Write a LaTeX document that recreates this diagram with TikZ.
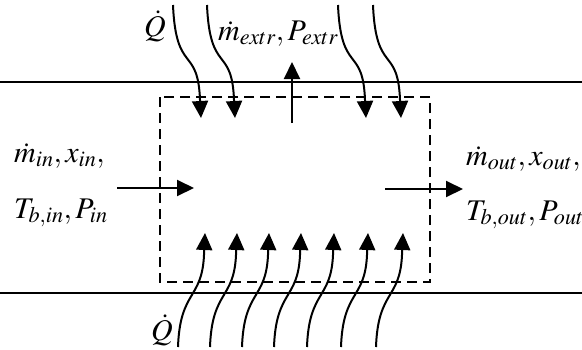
\documentclass[tikz,border=0pt]{standalone}
\usepackage{mathptmx}
\usepackage{tikz}
\usetikzlibrary{arrows.meta}
\tikzset{
  wall/.style={line width=2pt},
  cvbox/.style={line width=2pt, dash pattern=on 10pt off 6pt},
  flow/.style={line width=2pt, -{Triangle[length=17pt,width=16pt]}},
  lbl/.style={inner sep=0pt, anchor=base west, font=\fontsize{30}{36}\selectfont}
}
\begin{document}
\begin{tikzpicture}[x=1pt, y=-1pt]
  \useasboundingbox (0,0) rectangle (582,349);
  % pipe walls and control volume
  \draw[wall] (0,82) -- (582,82);
  \draw[wall] (0,293) -- (582,293);
  \draw[cvbox] (160,97) rectangle (430,282);
  % heat through the upper wall
  \foreach \x in {173,207,338,373}
    \draw[flow] (\x,5) .. controls (\x+3,75) and (\x+25,45) .. (\x+27,100) -- (\x+28,118);
  % heat through the lower wall
  \foreach \x in {178,210,242,274,307,341,376}
    \draw[flow] (\x,347) .. controls (\x+2,290) and (\x+24,300) .. (\x+26,255) -- (\x+27,233);
  % extraction, inlet and outlet
  \coordinate (extrA) at (292,123);
  \coordinate (extrB) at (292,62);
  \coordinate (inA) at (117,188);
  \coordinate (inB) at (194,188);
  \coordinate (outA) at (385,189);
  \coordinate (outB) at (463,189);
  \draw[flow] (extrA) -- (extrB);
  \draw[flow] (inA) -- (inB);
  \draw[flow] (outA) -- (outB);
  % labels
  \node[lbl] (qtop) at (144,36) {$\dot{Q}$};
  \node[lbl] (extrlbl) at (218,40) {$\dot{m}_{extr}, P_{extr}$};
  \node[lbl] (inlblA) at (14,162) {$\dot{m}_{in}, x_{in},$};
  \node[lbl] (inlblB) at (14,218) {$T_{b,in}, P_{in}$};
  \node[lbl] (outlblA) at (466,165) {$\dot{m}_{out}, x_{out},$};
  \node[lbl] (outlblB) at (466,220) {$T_{b,out}, P_{out}$};
  \node[lbl] (qbot) at (151,340) {$\dot{Q}$};
\end{tikzpicture}
\end{document}
